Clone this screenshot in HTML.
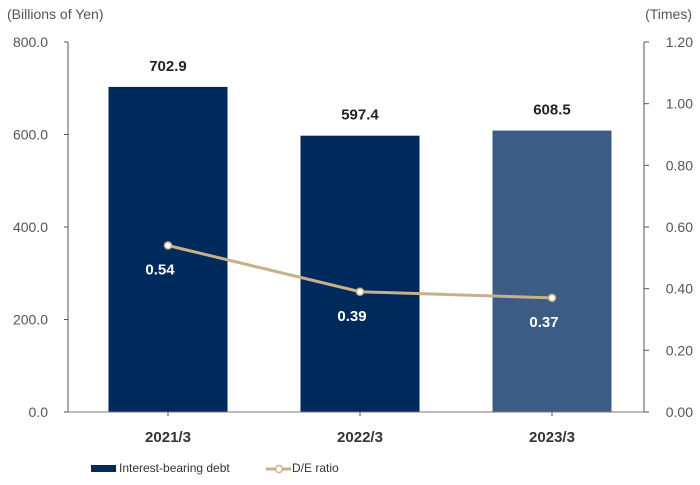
<!DOCTYPE html>
<html><head><meta charset="utf-8"><style>
body{margin:0;background:#fff;}
svg{font-family:"Liberation Sans","DejaVu Sans",sans-serif;}
</style></head><body>
<svg id="chart" width="700" height="480" viewBox="0 0 700 480">
<g id="g"></g>
</svg>
<script>
const categories = ["2021/3","2022/3","2023/3"];
const debtValues = [702.9,597.4,608.5];
const ratioValues = [0.54,0.39,0.37];
const leftTicks = ["0.0","200.0","400.0","600.0","800.0"];
const rightTicks = ["0.00","0.20","0.40","0.60","0.80","1.00","1.20"];
const barColors = ["#002a5c","#002a5c","#3d5c85"];

const NS="http://www.w3.org/2000/svg";
const g=document.getElementById('g');
const X0=68,X1=644,Y0=412,Y1=42;
const yL=v=>Y0-(v/800)*(Y0-Y1);
const yR=v=>Y0-(v/1.2)*(Y0-Y1);
const bandW=(X1-X0)/categories.length;
const xC=i=>X0+bandW*(i+0.5)+4;
function el(t,a,txt){const e=document.createElementNS(NS,t);for(const k in a)e.setAttribute(k,a[k]);if(txt!==undefined)e.textContent=txt;g.appendChild(e);return e;}

leftTicks.forEach(t=>{const y=yL(parseFloat(t));
 const e=el('text',{x:48,y:y+5,'text-anchor':'end','font-size':14,fill:'#555'},t);
 
 
 el('line',{x1:64,x2:X0,y1:y,y2:y,stroke:'#555'});});
rightTicks.forEach(t=>{const y=yR(parseFloat(t));
 const e=el('text',{x:693,y:y+5,'text-anchor':'end','font-size':14,fill:'#555'},t);
 
 
 el('line',{x1:X1,x2:X1+5,y1:y,y2:y,stroke:'#555'});});

categories.forEach((c,i)=>{
 const x=xC(i),top=yL(debtValues[i]);
 const r=el('rect',{x:x-59.5,y:top,width:119,height:Y0-top,fill:barColors[i]});
 
 
 const v=el('text',{x:x,y:top-16,'text-anchor':'middle','font-size':15,'font-weight':'bold',fill:'#222'},debtValues[i].toFixed(1));
 
 
 const l=el('text',{x:x,y:Y0+30,'text-anchor':'middle','font-size':15,'font-weight':'bold',fill:'#333'},c);
 
 
 el('line',{x1:x,x2:x,y1:Y0,y2:Y0+4,stroke:'#555'});
});
el('line',{x1:X0,x2:X0,y1:Y1,y2:Y0,stroke:'#555'});
el('line',{x1:X1,x2:X1,y1:Y1,y2:Y0,stroke:'#555'});
el('line',{x1:X0,x2:X1,y1:Y0,y2:Y0,stroke:'#777'});

const pts=ratioValues.map((v,i)=>xC(i)+','+yR(v)).join(' ');
const pl=el('polyline',{points:pts,fill:'none',stroke:'#c8b089','stroke-width':3});


ratioValues.forEach((v,i)=>{
 const c=el('circle',{cx:xC(i),cy:yR(v),r:3.5,fill:'#fff',stroke:'#c8b089','stroke-width':1.5});
 
 
 const t=el('text',{x:xC(i)-8,y:yR(v)+29,'text-anchor':'middle','font-size':15,'font-weight':'bold',fill:'#fff'},v.toFixed(2));
 
 
});

const a=el('text',{x:7,y:19,'font-size':14,fill:'#555'},'(Billions of Yen)');

const b=el('text',{x:692,y:19,'text-anchor':'end','font-size':14,fill:'#555'},'(Times)');


const lr=el('rect',{x:91,y:465,width:25,height:7,fill:'#002a5c'});

const lt=el('text',{x:119,y:472,'font-size':12,fill:'#333'},'Interest-bearing debt');

el('line',{x1:266,x2:291,y1:469,y2:469,stroke:'#c8b089','stroke-width':3});
el('circle',{cx:279,cy:469,r:3.5,fill:'#fff',stroke:'#c8b089','stroke-width':1.5});
const lt2=el('text',{x:292,y:472,'font-size':12,fill:'#333'},'D/E ratio');

</script>
</body></html>
